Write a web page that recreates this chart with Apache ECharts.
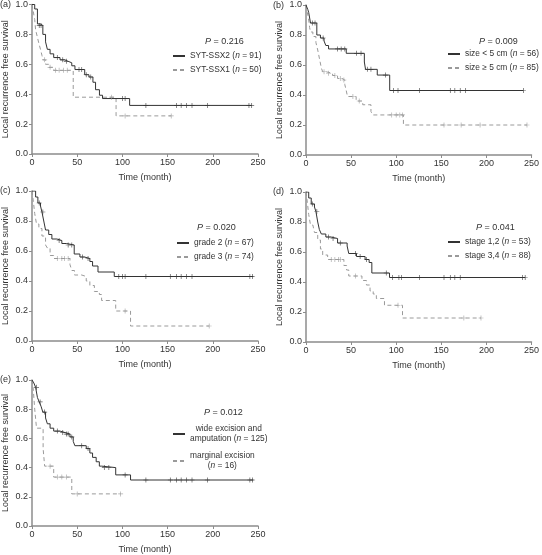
<!DOCTYPE html>
<html><head><meta charset="utf-8">
<script src="https://cdn.jsdelivr.net/npm/echarts@6/dist/echarts.min.js"></script>
<style>html,body{margin:0;padding:0;background:#fff}#c{width:542px;height:555px}</style>
</head><body><div id="c"></div>
<script>
// ---- Data ----
var panelLabels = ['(a)', '(b)', '(c)', '(d)', '(e)'];
var pValues = ['0.216', '0.009', '0.020', '0.041', '0.012'];
var xTicks = [0, 50, 100, 150, 200, 250];
var yTicks = [0, 0.2, 0.4, 0.6, 0.8, 1.0];
var group1Names = ['SYT-SSX2 (n = 91)', 'size < 5 cm (n = 56)', 'grade 2 (n = 67)', 'stage 1,2 (n = 53)', 'wide excision and\namputation (n = 125)'];
var group2Names = ['SYT-SSX1 (n = 50)', 'size \u2265 5 cm (n = 85)', 'grade 3 (n = 74)', 'stage 3,4 (n = 88)', 'marginal excision\n(n = 16)'];

// Panel (a)
var aSolid = [[0,1],[3,0.97],[6,0.87],[9,0.86],[12,0.80],[15,0.75],[17,0.70],[20,0.67],[24,0.645],[31,0.63],[36,0.62],[40,0.61],[44,0.59],[47.5,0.565],[58.3,0.53],[63,0.515],[67.4,0.48],[70.3,0.43],[74.6,0.393],[78,0.371],[108,0.325],[243,0.325]];
var aSolidCens = [[8,0.86],[10,0.86],[28,0.645],[34,0.63],[38,0.62],[52,0.565],[55,0.565],[60,0.53],[65,0.515],[100,0.371],[103,0.371],[126,0.325],[160,0.325],[165,0.325],[171,0.325],[177,0.325],[194,0.325],[240,0.325],[243,0.325]];
var aDash = [[0,1],[1.5,0.95],[3,0.90],[4,0.83],[6,0.78],[7.6,0.74],[9.4,0.70],[11,0.66],[12,0.63],[15,0.60],[18.5,0.58],[24,0.56],[45.6,0.38],[93,0.255],[154,0.255]];
var aDashCens = [[14,0.63],[20,0.58],[26,0.56],[30,0.56],[35,0.56],[39,0.56],[88,0.38],[103,0.255],[154,0.255]];

// Panel (b)
var bSolid = [[0,1],[2,0.97],[3,0.95],[5,0.88],[12,0.80],[16,0.78],[20,0.76],[22,0.73],[25,0.707],[44.6,0.678],[64.7,0.62],[66,0.571],[79,0.533],[92.8,0.43],[241,0.43]];
var bSolidCens = [[7,0.88],[10,0.88],[19,0.78],[35,0.707],[39,0.707],[43,0.707],[56,0.678],[61,0.678],[68,0.571],[72,0.571],[88,0.533],[97,0.43],[102,0.43],[126,0.43],[160,0.43],[165,0.43],[171,0.43],[177,0.43],[241,0.43]];
var bDash = [[0,1],[1.5,0.95],[3,0.90],[4,0.85],[5,0.82],[7.6,0.79],[11,0.75],[13,0.70],[15,0.64],[17,0.58],[18.5,0.555],[22,0.545],[29.5,0.53],[35,0.51],[40,0.50],[43,0.47],[44.6,0.43],[46,0.39],[55.6,0.36],[62.9,0.335],[72,0.29],[74,0.267],[108,0.20],[245,0.20]];
var bDashCens = [[20,0.555],[25,0.545],[32,0.53],[38,0.51],[42,0.50],[52,0.39],[59,0.36],[95,0.267],[100,0.267],[104,0.267],[107,0.267],[153,0.20],[172,0.20],[193,0.20],[245,0.20]];

// Panel (c)
var cSolid = [[0,1],[4,0.96],[6.5,0.92],[9.4,0.90],[11,0.86],[13,0.80],[15,0.74],[18.5,0.71],[22,0.68],[27.5,0.67],[33,0.65],[38,0.64],[46.7,0.58],[53,0.56],[58,0.55],[64,0.53],[67,0.50],[73,0.46],[91,0.43],[245,0.43]];
var cSolidCens = [[8,0.92],[12,0.86],[30,0.67],[40,0.64],[44,0.64],[56,0.56],[62,0.55],[96,0.43],[100,0.43],[103,0.43],[126,0.43],[153,0.43],[160,0.43],[165,0.43],[171,0.43],[177,0.43],[241,0.43],[244,0.43]];
var cDash = [[0,1],[1.5,0.93],[3,0.85],[5,0.78],[7.6,0.75],[11,0.70],[15,0.64],[17,0.62],[20,0.57],[24,0.55],[42,0.51],[44,0.47],[47,0.44],[55,0.43],[60,0.40],[64,0.37],[69,0.33],[74.5,0.31],[77,0.27],[92.6,0.20],[109,0.10],[196,0.10]];
var cDashCens = [[28,0.55],[33,0.55],[36,0.55],[40,0.55],[103,0.20],[196,0.10]];

// Panel (d)
var dSolid = [[0,1],[3,0.96],[5.8,0.92],[9.4,0.90],[11,0.87],[13,0.80],[14.8,0.75],[17,0.72],[22,0.70],[27.5,0.69],[35,0.66],[45.6,0.64],[47.4,0.59],[56,0.57],[65.5,0.55],[70,0.53],[73,0.46],[92.6,0.43],[243,0.43]];
var dSolidCens = [[7,0.92],[12,0.87],[25,0.70],[30,0.69],[38,0.66],[55,0.59],[60,0.57],[67,0.55],[89,0.46],[96,0.43],[103,0.43],[106,0.43],[126,0.43],[153,0.43],[160,0.43],[165,0.43],[171,0.43],[240,0.43],[243,0.43]];
var dDash = [[0,1],[1.5,0.93],[3,0.85],[5,0.78],[7.6,0.77],[9.4,0.73],[13,0.68],[16,0.62],[18.5,0.58],[24,0.55],[42,0.51],[45,0.48],[47.4,0.44],[62,0.41],[67,0.38],[71,0.34],[74.5,0.32],[78,0.29],[87,0.245],[107,0.16],[194,0.16]];
var dDashCens = [[28,0.55],[32,0.55],[36,0.55],[38,0.55],[55,0.44],[102,0.245],[175,0.16],[194,0.16]];

// Panel (e)
var eSolid = [[0,1],[2,0.98],[4,0.95],[6,0.88],[8,0.85],[10,0.82],[12,0.78],[15,0.74],[17,0.70],[20,0.67],[24,0.65],[31,0.64],[36.5,0.63],[42,0.61],[45.6,0.58],[47.4,0.55],[60,0.53],[64,0.50],[67,0.47],[71,0.44],[74.5,0.41],[77,0.40],[92.6,0.35],[109,0.315],[245,0.315]];
var eSolidCens = [[5,0.95],[9,0.85],[14,0.78],[28,0.65],[34,0.64],[38,0.63],[40,0.63],[44,0.61],[55,0.55],[62,0.53],[80,0.40],[85,0.40],[103,0.35],[126,0.315],[153,0.315],[160,0.315],[165,0.315],[171,0.315],[177,0.315],[194,0.315],[241,0.315],[244,0.315]];
var eDash = [[0,1],[1.5,0.93],[3,0.80],[5,0.67],[12.3,0.53],[14,0.41],[24,0.335],[44,0.22],[98,0.22]];
var eDashCens = [[20,0.41],[28,0.335],[33,0.335],[38,0.335],[50,0.22],[98,0.22]];

var solidCurves = [aSolid, bSolid, cSolid, dSolid, eSolid];
var solidCensors = [aSolidCens, bSolidCens, cSolidCens, dSolidCens, eSolidCens];
var dashCurves = [aDash, bDash, cDash, dDash, eDash];
var dashCensors = [aDashCens, bDashCens, cDashCens, dDashCens, eDashCens];

// ---- Layout ----
var grids = [
  {left: 28, top: 4, width: 230, height: 150},
  {left: 306, top: 5, width: 228, height: 150},
  {left: 28, top: 191, width: 230, height: 150},
  {left: 306, top: 192, width: 229, height: 150},
  {left: 28, top: 380, width: 230, height: 150}
];
var labelPos = [[0,0],[273,1],[0,186],[273,187],[0,375]];
var pPos = [[205,37],[479,37],[197,223],[476,223],[204,408]];
var legendPos = [[172,52],[447,50],[176,239],[447,238],[172,425]];

var FONT = 'Liberation Sans, Arial, sans-serif';
var SOLID_C = '#333333';
var DASH_C = '#9a9a9a';
var plusSym = 'path://M3,0h1v3h3v1h-3v3h-1v-3h-3v-1h3z';
var LF = 8.4;

function fmtName(name) {
  return name.split('\n').map(function (line) {
    var parts = line.split('(n =');
    if (parts.length === 2) return '{t|' + parts[0] + '(}{i|n}{t| =' + parts[1] + '}';
    return '{t|' + line + '}';
  }).join('\n');
}

var option = {
  backgroundColor: '#fff',
  animation: false,
  grid: [], xAxis: [], yAxis: [], series: [], title: [], legend: []
};

for (var i = 0; i < 5; i++) {
  option.grid.push(Object.assign({containLabel: false}, grids[i]));
  option.xAxis.push({
    gridIndex: i, type: 'value', min: 0, max: 250, interval: 50,
    name: 'Time (month)', nameLocation: 'middle', nameGap: 19,
    nameTextStyle: {fontFamily: FONT, fontSize: 9, color: '#333'},
    axisLine: {lineStyle: {color: '#8c8c8c', width: 1.5}},
    axisTick: {show: true, length: 3, lineStyle: {color: '#8c8c8c'}},
    axisLabel: {fontFamily: FONT, fontSize: 9, color: '#333', margin: 4,
      formatter: function (v) { return xTicks.indexOf(v) >= 0 ? String(v) : ''; }},
    splitLine: {show: false}
  });
  option.yAxis.push({
    gridIndex: i, type: 'value', min: 0, max: 1, interval: 0.2,
    name: 'Local recurrence free survival', nameLocation: 'middle', nameGap: 22,
    nameTextStyle: {fontFamily: FONT, fontSize: 9, color: '#333'},
    axisLine: {show: true, lineStyle: {color: '#8c8c8c', width: 1.5}},
    axisTick: {show: true, length: 3, lineStyle: {color: '#8c8c8c'}},
    axisLabel: {fontFamily: FONT, fontSize: 9, color: '#333', margin: 4,
      formatter: function (v) { return v.toFixed(1); }},
    splitLine: {show: false}
  });
  option.series.push({
    name: group1Names[i], type: 'line', xAxisIndex: i, yAxisIndex: i,
    data: solidCurves[i], step: 'end', symbol: 'none',
    lineStyle: {color: SOLID_C, width: 1}, itemStyle: {color: SOLID_C}, z: 3
  });
  option.series.push({
    name: group2Names[i], type: 'line', xAxisIndex: i, yAxisIndex: i,
    data: dashCurves[i], step: 'end', symbol: 'none',
    lineStyle: {color: DASH_C, width: 1, type: [4, 3]}, itemStyle: {color: DASH_C}, z: 2
  });
  option.series.push({
    type: 'scatter', xAxisIndex: i, yAxisIndex: i, data: solidCensors[i],
    symbol: plusSym, symbolSize: 5, itemStyle: {color: SOLID_C}, z: 4, silent: true
  });
  option.series.push({
    type: 'scatter', xAxisIndex: i, yAxisIndex: i, data: dashCensors[i],
    symbol: plusSym, symbolSize: 5, itemStyle: {color: DASH_C}, z: 4, silent: true
  });
  option.title.push({
    text: panelLabels[i], left: labelPos[i][0], top: labelPos[i][1], padding: 0,
    textStyle: {fontFamily: FONT, fontSize: 9, fontWeight: 'normal', color: '#333'}
  });
  option.title.push({
    text: '{i|P}{t| = ' + pValues[i] + '}', left: pPos[i][0], top: pPos[i][1], padding: 0,
    textStyle: {fontFamily: FONT, fontSize: 9, fontWeight: 'normal', color: '#333',
      rich: {i: {fontStyle: 'italic', fontFamily: FONT, fontSize: 9, color: '#333'},
             t: {fontFamily: FONT, fontSize: 9, color: '#333'}}}
  });
  var isE = (i === 4);
  option.legend.push({
    data: [group1Names[i], group2Names[i]],
    orient: 'vertical', left: legendPos[i][0], top: legendPos[i][1],
    padding: 0, itemGap: isE ? 9 : 6, itemWidth: 12, itemHeight: 9,
    selectedMode: false,
    itemStyle: {opacity: 0},
    formatter: fmtName,
    textStyle: {fontFamily: FONT, fontSize: LF, color: '#333',
      rich: {
        t: {fontFamily: FONT, fontSize: LF, color: '#333', align: isE ? 'center' : 'left', lineHeight: 10},
        i: {fontFamily: FONT, fontSize: LF, color: '#333', fontStyle: 'italic', align: isE ? 'center' : 'left', lineHeight: 10}
      }}
  });
}

var chart = echarts.init(document.getElementById('c'), null, {renderer: 'canvas'});
chart.setOption(option);
</script>
</body></html>
